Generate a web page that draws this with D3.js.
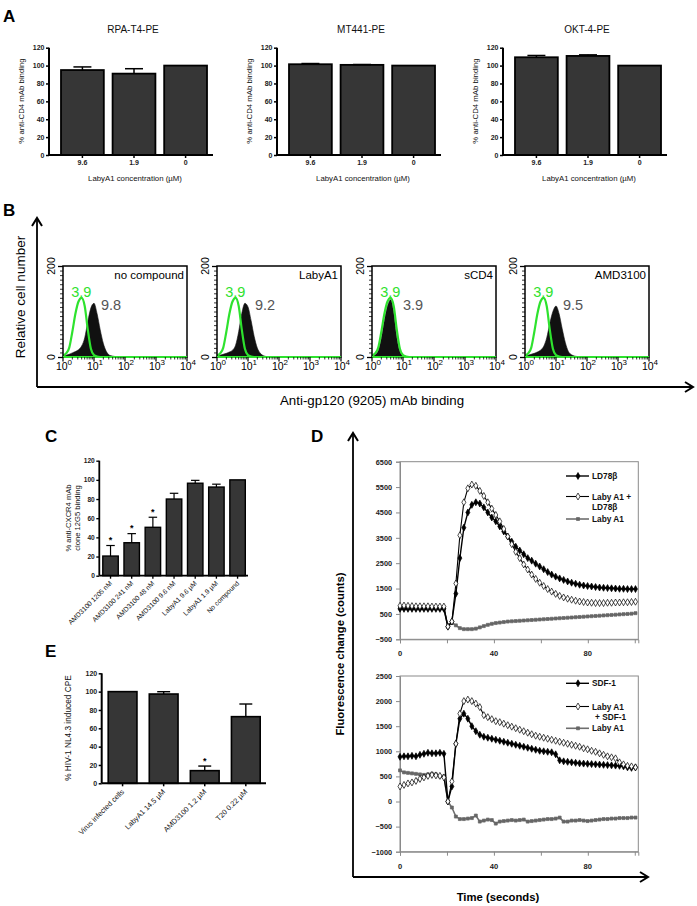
<!DOCTYPE html>
<html><head><meta charset="utf-8">
<script src="https://cdn.jsdelivr.net/npm/d3@7"></script>
<style>
body{margin:0;background:#fff}
svg{display:block}
text{font-family:Arial,"Liberation Sans",Helvetica,sans-serif}
</style>
</head><body>
<svg id="fig" width="697" height="906"></svg>
<script>
// ---------------- DATA ----------------
// Panel A
const aCategories = ["9.6", "1.9", "0"];
const aTitles = ["RPA-T4-PE", "MT441-PE", "OKT-4-PE"];
const aRPA = [95, 91, 100];
const aRPAErr = [3.5, 5.5, 0];
const aMT441 = [101.5, 100.8, 100];
const aMT441Err = [0.8, 0.4, 0];
const aOKT4 = [109.3, 110.8, 100];
const aOKT4Err = [2, 1.2, 0];
const aYTicks = [0, 20, 40, 60, 80, 100, 120];

// Panel B (flow cytometry histograms, log10 bins)
const bPanels = ["no compound", "LabyA1", "sCD4", "AMD3100"];
const bControlMFI = ["3.9", "3.9", "3.9", "3.9"];
const bSampleMFI = ["9.8", "9.2", "3.9", "9.5"];
const bLogBins = [0,0.1,0.2,0.3,0.4,0.5,0.6,0.7,0.8,0.9,1.0,1.1,1.2,1.3,1.4,1.5,1.6,1.7,1.8,1.9,2.0,2.5,3.0,3.5,4.0];
const bControl = [3,8,20,55,95,122,130,112,60,18,4,1,0,0,0,0,0,0,0,0,0,0,0,0,0];
const bNoCompound = [2,4,6,9,12,16,24,42,78,108,118,95,60,30,12,4,2,1,1,0,1,0,0,0,0];
const bLabyA1 = [2,4,6,8,11,15,26,56,96,118,110,80,45,20,8,3,1,1,0,1,0,0,0,0,0];
const bSCD4 = [2,5,14,40,80,112,126,98,42,12,3,1,0,0,0,1,0,0,0,0,0,0,0,0,0];
const bAMD3100 = [2,4,6,8,11,15,23,42,74,100,112,95,62,32,12,5,2,1,0,1,0,0,0,0,0];
const bXTicks = [0, 1, 2, 3, 4];

// Panel C
const cCategories = ["AMD3100 1205 nM", "AMD3100 241 nM", "AMD3100 48 nM", "AMD3100 9.6 nM", "LabyA1 9.6 µM", "LabyA1 1.9 µM", "No compound"];
const cValues = [20.5, 34.4, 50.5, 80, 96.5, 92.5, 100];
const cErr = [11, 9.5, 10.5, 6, 3, 3, 0];
const cStars = [true, true, true, false, false, false, false];

// Panel E
const eCategories = ["Virus infected cells", "LabyA1 14.5 µM", "AMD3100 1.2 µM", "T20 0.22 µM"];
const eValues = [100, 97.4, 13.8, 72.7];
const eErr = [0, 2.5, 5, 13.8];
const eStars = [false, false, true, false];

// Panel D (time in seconds)
const dTime = [0,1.7,3.4,5.1,6.8,8.5,10.2,11.9,13.6,15.3,17.0,18.7,20.4,22.1,23.8,25.5,27.2,28.9,30.6,32.3,34.0,35.7,37.4,39.1,40.8,42.5,44.2,45.9,47.6,49.3,51.0,52.7,54.4,56.1,57.8,59.5,61.2,62.9,64.6,66.3,68.0,69.7,71.4,73.1,74.8,76.5,78.2,79.9,81.6,83.3,85.0,86.7,88.4,90.1,91.8,93.5,95.2,96.9,98.6,100.3];
const dTopLD78 = [700,700,700,700,700,700,700,700,700,700,700,700,0,200,1300,2700,3900,4500,4800,4900,4850,4700,4500,4300,4150,3950,3750,3550,3350,3150,3000,2850,2700,2600,2480,2370,2260,2150,2050,1970,1900,1840,1780,1730,1690,1650,1620,1600,1580,1560,1540,1530,1520,1510,1500,1490,1490,1480,1480,1480];
const dTopLabyLD78 = [820,830,820,810,800,800,800,800,790,790,790,790,0,200,1700,3600,4900,5450,5600,5550,5350,5150,4900,4650,4400,4150,3850,3550,3250,2950,2700,2450,2250,2050,1880,1730,1600,1480,1380,1290,1210,1150,1100,1060,1020,990,970,950,940,930,930,930,940,940,950,950,960,960,970,980];
const dTopLaby = [720,720,720,720,720,720,720,720,720,720,720,720,0,150,50,-60,-100,-100,-100,-80,-30,20,70,110,140,160,180,200,210,220,230,240,250,260,270,280,290,300,310,320,330,340,350,360,370,380,390,400,410,420,430,440,450,460,470,480,490,500,510,530];
const dBotSDF = [890,900,900,910,900,930,950,970,960,960,970,950,0,300,1150,1650,1750,1650,1500,1400,1330,1290,1270,1250,1230,1210,1190,1170,1150,1130,1110,1090,1070,1050,1030,1010,1000,990,980,940,820,800,790,780,770,760,755,750,745,740,735,730,725,720,715,710,700,680,670,680];
const dBotLabySDF = [300,330,360,380,410,450,480,510,530,520,510,480,0,400,1150,1750,2000,2030,2000,1950,1880,1720,1680,1640,1600,1580,1550,1520,1490,1460,1430,1400,1370,1340,1310,1290,1270,1250,1230,1210,1190,1170,1150,1130,1110,1090,1060,1040,1010,990,960,930,900,880,860,780,740,710,700,680];
const dBotLaby = [620,580,570,560,550,540,530,540,550,540,500,500,0,-120,-300,-350,-350,-340,-330,-280,-400,-380,-360,-370,-440,-400,-390,-380,-370,-380,-370,-360,-400,-390,-380,-370,-360,-350,-350,-340,-320,-400,-400,-380,-380,-370,-380,-390,-380,-370,-360,-350,-350,-340,-340,-330,-330,-330,-320,-320];
const dTopYTicks = [-500,500,1500,2500,3500,4500,5500,6500];
const dBotYTicks = [-1000,-500,0,500,1000,1500,2000,2500];
const dXLabels = [0, 40, 80];
const dXTicks = [0, 20, 40, 60, 80, 100];

// ---------------- DRAWING ----------------
const svg = d3.select("#fig");
const FONT = 'Arial,"Liberation Sans",Helvetica,sans-serif';

function panelLabel(t, x, y) {
  svg.append("text").attr("x", x).attr("y", y).attr("font-size", 17).attr("font-weight", "bold").text(t);
}
panelLabel("A", 3, 22);
panelLabel("B", 3, 216);
panelLabel("C", 45, 442);
panelLabel("D", 311, 442);
panelLabel("E", 45, 657);

// generic bar chart
function barChart(o) {
  const g = svg.append("g");
  const y = d3.scaleLinear().domain([0, 120]).range([o.y0, o.y120]);
  const x = d3.scaleBand().domain(o.cats).range([o.ax + o.padL, o.ax + o.padR]).paddingInner(o.pad).paddingOuter(0);
  g.selectAll("rect.bar").data(o.vals).enter().append("rect")
    .attr("x", (d, i) => x(o.cats[i]))
    .attr("y", d => y(d))
    .attr("width", x.bandwidth())
    .attr("height", d => y(0) - y(d))
    .attr("fill", "#363636").attr("stroke", "#000").attr("stroke-width", o.barStroke);
  const cap = x.bandwidth() * o.capFrac;
  o.vals.forEach((v, i) => {
    if (!o.errs[i]) return;
    const cx = x(o.cats[i]) + x.bandwidth() / 2;
    g.append("line").attr("x1", cx).attr("x2", cx).attr("y1", y(v)).attr("y2", y(v + o.errs[i])).attr("stroke", "#000").attr("stroke-width", o.errStroke);
    g.append("line").attr("x1", cx - cap / 2).attr("x2", cx + cap / 2).attr("y1", y(v + o.errs[i])).attr("y2", y(v + o.errs[i])).attr("stroke", "#000").attr("stroke-width", o.errStroke);
    if (o.stars && o.stars[i]) {
      g.append("text").attr("x", cx).attr("y", y(v + o.errs[i]) - 2.5).attr("text-anchor", "middle")
        .attr("font-size", o.starSize).attr("font-weight", "bold").text("*");
    }
  });
  const yAxis = d3.axisLeft(y).tickValues(aYTicks).tickSize(o.tick).tickPadding(1.5);
  const ya = g.append("g").attr("transform", `translate(${o.ax},0)`).call(yAxis);
  ya.select(".domain").attr("stroke-width", o.axStroke).attr("d", `M0,${o.y120}V${o.y0}`);
  ya.selectAll(".tick line").attr("stroke-width", o.axStroke * 0.75);
  ya.selectAll("text").attr("font-size", o.tickFont).attr("font-weight", "bold").attr("font-family", FONT).attr("fill", "#1a1a1a");
  const xAxis = d3.axisBottom(x).tickSize(o.tick).tickFormat(o.rotate ? "" : null).tickPadding(2);
  const xa = g.append("g").attr("transform", `translate(0,${o.y0})`).call(xAxis);
  xa.select(".domain").attr("stroke-width", o.axStroke).attr("d", `M${o.ax},0H${o.axEnd}`);
  xa.selectAll(".tick line").attr("stroke-width", o.axStroke * 0.75);
  if (!o.rotate) {
    xa.selectAll("text").attr("font-size", o.tickFont).attr("font-weight", "bold").attr("font-family", FONT).attr("fill", "#1a1a1a");
  } else {
    o.cats.forEach(c => {
      const cx = x(c) + x.bandwidth() / 2 + 2;
      g.append("text").attr("transform", `translate(${cx},${o.y0 + o.rotOff}) rotate(-45)`)
        .attr("text-anchor", "end").attr("font-size", o.rotFont).attr("fill", "#111").text(c);
    });
  }
  return { g, x, y };
}

// Panel A
const aData = [[aRPA, aRPAErr], [aMT441, aMT441Err], [aOKT4, aOKT4Err]];
const aAxisX = [49, 277, 503];
aData.forEach((d, k) => {
  const ax = aAxisX[k];
  barChart({ ax, axEnd: ax + 164, y0: 155, y120: 47.7, cats: aCategories, vals: d[0], errs: d[1],
    padL: 12, padR: 158, pad: 0.17, capFrac: 0.42, barStroke: 1.8, errStroke: 1.5, axStroke: 2, tick: 3,
    tickFont: 7, rotate: false });
  svg.append("text").attr("x", ax + 84).attr("y", 33).attr("text-anchor", "middle").attr("font-size", 10).attr("fill", "#111").text(aTitles[k]);
  svg.append("text").attr("x", ax + 86).attr("y", 180.5).attr("text-anchor", "middle").attr("font-size", 7.8).attr("fill", "#111").text("LabyA1 concentration (µM)");
  svg.append("text").attr("transform", `translate(${ax - 25},101) rotate(-90)`).attr("text-anchor", "middle").attr("font-size", 7.8).attr("fill", "#111").text("% anti-CD4 mAb binding");
});

// Panel B
function arrowV(x, yTop, yBot) {
  svg.append("line").attr("x1", x).attr("x2", x).attr("y1", yTop).attr("y2", yBot).attr("stroke", "#000").attr("stroke-width", 1.8);
  svg.append("path").attr("d", `M${x - 5},${yTop + 8}L${x},${yTop}L${x + 5},${yTop + 8}`).attr("fill", "none").attr("stroke", "#000").attr("stroke-width", 2);
}
function arrowH(y, xL, xR) {
  svg.append("line").attr("x1", xL).attr("x2", xR).attr("y1", y).attr("y2", y).attr("stroke", "#000").attr("stroke-width", 1.8);
  svg.append("path").attr("d", `M${xR - 8},${y - 5}L${xR},${y}L${xR - 8},${y + 5}`).attr("fill", "none").attr("stroke", "#000").attr("stroke-width", 2);
}
arrowV(37, 218, 387);
arrowH(387, 37, 693);
svg.append("text").attr("transform", "translate(25,297) rotate(-90)").attr("text-anchor", "middle").attr("font-size", 13.5).text("Relative cell number");
svg.append("text").attr("x", 372).attr("y", 405).attr("text-anchor", "middle").attr("font-size", 13.3).text("Anti-gp120 (9205) mAb binding");

const bSamples = [bNoCompound, bLabyA1, bSCD4, bAMD3100];
const bLefts = [63, 217, 372, 525];
const GREEN = "#2ee22e";
bSamples.forEach((sample, k) => {
  const L = bLefts[k], W = 124, T = 266, B = 357;
  const g = svg.append("g");
  const x = d3.scaleLinear().domain([0, 4]).range([L, L + W]);
  const y = d3.scaleLinear().domain([0, 200]).range([B, T]);
  const area = d3.area().x((d, i) => x(bLogBins[i])).y0(B).y1(d => y(d)).curve(d3.curveMonotoneX);
  g.append("path").datum(sample).attr("d", area).attr("fill", "#111").attr("stroke", "#111").attr("stroke-width", 0.6);
  const line = d3.line().x((d, i) => x(bLogBins[i])).y(d => y(d)).curve(d3.curveMonotoneX);
  g.append("path").datum(bControl).attr("d", line).attr("fill", "none").attr("stroke", GREEN).attr("stroke-width", 2.2);
  g.append("rect").attr("x", L).attr("y", T).attr("width", W).attr("height", B - T).attr("fill", "none").attr("stroke", "#000").attr("stroke-width", 1.5);
  g.append("line").attr("x1", L).attr("x2", L + W).attr("y1", B).attr("y2", B).attr("stroke", GREEN).attr("stroke-width", 1.8);
  const ya = d3.axisLeft(y).ticks(20).tickSize(3).tickFormat("");
  g.append("g").attr("transform", `translate(${L},0)`).call(ya).call(s => s.select(".domain").remove()).selectAll("line").attr("stroke-width", 0.8);
  g.append("g").attr("transform", `translate(${L},0)`).call(d3.axisLeft(y).tickValues([0, 200]).tickSize(5).tickFormat("")).call(s => s.select(".domain").remove()).selectAll("line").attr("stroke-width", 1.3);
  [0, 200].forEach(v => {
    g.append("text").attr("transform", `translate(${L - 8},${y(v)}) rotate(-90)`).attr("text-anchor", "middle").attr("font-size", 10.5).text(v);
  });
  const minor = [];
  for (let dec = 0; dec < 4; dec++) for (let m = 2; m <= 9; m++) minor.push(dec + Math.log10(m));
  g.selectAll("line.mn").data(minor).enter().append("line").attr("x1", d => x(d)).attr("x2", d => x(d)).attr("y1", B).attr("y2", B + 2.5).attr("stroke", "#000").attr("stroke-width", 0.8);
  g.selectAll("line.mj").data(bXTicks).enter().append("line").attr("x1", d => x(d)).attr("x2", d => x(d)).attr("y1", B).attr("y2", B + 4.5).attr("stroke", "#000").attr("stroke-width", 1.2);
  bXTicks.forEach(t => {
    const tx = g.append("text").attr("x", x(t) + 1).attr("y", B + 13).attr("text-anchor", "middle").attr("font-size", 10.5).text("10");
    tx.append("tspan").attr("dy", -5).attr("font-size", 8).text(t);
  });
  g.append("text").attr("x", L + W - 3).attr("y", T + 13).attr("text-anchor", "end").attr("font-size", 11.5).text(bPanels[k]);
  const peakX = x(0.62);
  g.append("text").attr("x", peakX - 1).attr("y", T + 31).attr("text-anchor", "middle").attr("font-size", 14.5).attr("fill", GREEN).text(bControlMFI[k]);
  const sx = k === 2 ? L + 31 : L + 38;
  g.append("text").attr("x", sx).attr("y", T + 44).attr("font-size", 14.5).attr("fill", "#555").text(bSampleMFI[k]);
});

// Panel C
barChart({ ax: 99.3, axEnd: 248, y0: 575.7, y120: 460.7, cats: cCategories, vals: cValues, errs: cErr, stars: cStars,
  padL: 3.5, padR: 146, pad: 0.27, capFrac: 0.55, barStroke: 1.4, errStroke: 1.2, axStroke: 1.8, tick: 3,
  tickFont: 6.6, rotate: true, rotOff: 8, rotFont: 6.8, starSize: 9 });
svg.append("text").attr("transform", "translate(71,518) rotate(-90)").attr("text-anchor", "middle").attr("font-size", 7.6).attr("fill", "#111").text("% anti-CXCR4 mAb");
svg.append("text").attr("transform", "translate(80,518) rotate(-90)").attr("text-anchor", "middle").attr("font-size", 7.6).attr("fill", "#111").text("clone 12G5 binding");

// Panel E
barChart({ ax: 101.7, axEnd: 266, y0: 783.3, y120: 673.3, cats: eCategories, vals: eValues, errs: eErr, stars: eStars,
  padL: 6.5, padR: 158.5, pad: 0.3, capFrac: 0.45, barStroke: 1.6, errStroke: 1.4, axStroke: 2, tick: 3,
  tickFont: 7, rotate: true, rotOff: 9, rotFont: 7.3, starSize: 9 });
svg.append("text").attr("transform", "translate(71,728) rotate(-90)").attr("text-anchor", "middle").attr("font-size", 8.3).attr("fill", "#111").text("% HIV-1 NL4.3 induced CPE");

// Panel D
arrowV(353, 433, 877);
arrowH(877, 353, 648);
svg.append("text").attr("transform", "translate(344,654) rotate(-90)").attr("text-anchor", "middle").attr("font-size", 11.3).attr("font-weight", "bold").text("Fluorescence change (counts)");
svg.append("text").attr("x", 498).attr("y", 901).attr("text-anchor", "middle").attr("font-size", 11.3).attr("font-weight", "bold").text("Time (seconds)");

function lineChart(o) {
  const g = svg.append("g");
  const L = 400, R = 638.3;
  const x = d3.scaleLinear().domain([0, 101.5]).range([L, R]);
  const y = d3.scaleLinear().domain(o.yDomain).range([o.bottom, o.top]);
  const GR = "#8a8a8a";
  g.append("rect").attr("x", L).attr("y", o.top).attr("width", R - L).attr("height", o.bottom - o.top).attr("fill", "none").attr("stroke", GR).attr("stroke-width", 1);
  const ya = g.append("g").attr("transform", `translate(${L},0)`).call(d3.axisLeft(y).tickValues(o.yTicks).tickSize(4).tickPadding(4).tickFormat(d3.format("d")));
  ya.select(".domain").attr("stroke", GR);
  ya.selectAll(".tick line").attr("stroke", GR);
  ya.selectAll("text").attr("font-size", 7.3).attr("font-weight", "bold").attr("fill", "#222").attr("font-family", FONT);
  const xa = g.append("g").attr("transform", `translate(0,${o.bottom})`).call(d3.axisBottom(x).tickValues(dXTicks).tickSize(4).tickFormat(""));
  xa.select(".domain").attr("stroke", GR);
  xa.selectAll(".tick line").attr("stroke", GR);
  dXLabels.forEach(t => g.append("text").attr("x", x(t)).attr("y", o.bottom + 17).attr("text-anchor", "middle").attr("font-size", 7.6).attr("font-weight", "bold").attr("fill", "#222").text(t));

  const styles = {
    filled: { line: "#000", lw: 1.4, sym: d3.symbolDiamond, size: 14, fill: "#000", stroke: "#000" },
    open: { line: "#000", lw: 1.1, sym: d3.symbolDiamond, size: 14, fill: "#fff", stroke: "#000" },
    gray: { line: "#6e6e6e", lw: 1.6, sym: d3.symbolSquare, size: 9, fill: "#666", stroke: "#666" }
  };
  o.series.forEach(s => {
    const st = styles[s.style];
    const line = d3.line().x((d, i) => x(dTime[i])).y(d => y(d));
    g.append("path").datum(s.values).attr("d", line).attr("fill", "none").attr("stroke", st.line).attr("stroke-width", st.lw);
    g.selectAll(null).data(s.values).enter().append("path")
      .attr("transform", (d, i) => `translate(${x(dTime[i])},${y(d)})`)
      .attr("d", d3.symbol().type(st.sym).size(st.size))
      .attr("fill", st.fill).attr("stroke", st.stroke).attr("stroke-width", 0.7);
  });
  o.legend.forEach(e => {
    const st = styles[e.style];
    g.append("line").attr("x1", 566).attr("x2", 589).attr("y1", e.y).attr("y2", e.y).attr("stroke", st.line).attr("stroke-width", st.lw);
    g.append("path").attr("transform", `translate(578,${e.y})`).attr("d", d3.symbol().type(st.sym).size(st.size)).attr("fill", st.fill).attr("stroke", st.stroke).attr("stroke-width", 0.7);
    e.lines.forEach((t, j) => g.append("text").attr("x", 592 + (e.indent && j > 0 ? e.indent : 0)).attr("y", e.y + 3 + j * 10.3)
      .attr("font-size", 8.3).attr("font-weight", "bold").attr("fill", "#111").text(t));
  });
}

lineChart({ top: 461.7, bottom: 639.3, yDomain: [-500, 6500], yTicks: dTopYTicks,
  series: [{ values: dTopLaby, style: "gray" }, { values: dTopLD78, style: "filled" }, { values: dTopLabyLD78, style: "open" }],
  legend: [{ y: 476, style: "filled", lines: ["LD78β"] }, { y: 496.5, style: "open", lines: ["Laby A1 +", "LD78β"] }, { y: 519, style: "gray", lines: ["Laby A1"] }] });

lineChart({ top: 676, bottom: 851.7, yDomain: [-1000, 2500], yTicks: dBotYTicks,
  series: [{ values: dBotLaby, style: "gray" }, { values: dBotSDF, style: "filled" }, { values: dBotLabySDF, style: "open" }],
  legend: [{ y: 683.3, style: "filled", lines: ["SDF-1"] }, { y: 706.5, style: "open", lines: ["Laby A1", "+ SDF-1"], indent: 3 }, { y: 728.3, style: "gray", lines: ["Laby A1"] }] });
</script>
</body></html>
